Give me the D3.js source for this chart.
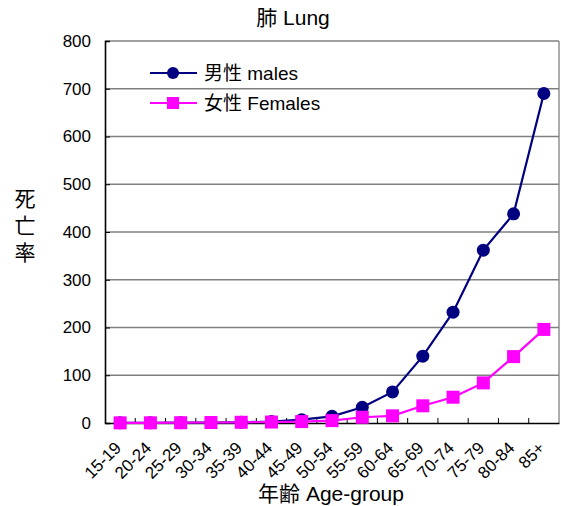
<!DOCTYPE html>
<html><head><meta charset="utf-8">
<script src="https://cdn.jsdelivr.net/npm/d3@7"></script>
<style>
body{margin:0;background:#fff;}
text{font-family:"Liberation Sans","Noto Sans CJK JP",sans-serif;fill:#000;}
</style></head>
<body><svg id="c" width="561" height="506"></svg>
<script>
const categories = ["15-19","20-24","25-29","30-34","35-39","40-44","45-49","50-54","55-59","60-64","65-69","70-74","75-79","80-84","85+"];
const males   = [0.3, 0.4, 0.6, 1, 1.5, 3, 7, 14, 33, 65, 140, 232, 362, 438, 690];
const females = [0.3, 0.4, 0.6, 1, 1.5, 2, 3, 5, 12, 15, 36, 54, 84, 139, 196];
const yTicks  = [0,100,200,300,400,500,600,700,800];
const seriesNames = ["男性 males","女性 Females"];
const colors = ["#000080","#ff00ff"];

const svg = d3.select("#c");
const L=105, R=559, T=41, B=423;
const x = d3.scaleBand().domain(categories).range([L,R]);
const y = d3.scaleLinear().domain([0,800]).range([B,T]);

// gridlines
svg.append("g").selectAll("line").data(yTicks.filter(d=>d>0)).join("line")
  .attr("x1",L).attr("x2",R).attr("y1",d=>y(d)).attr("y2",d=>y(d))
  .attr("stroke","#808080").attr("stroke-width",1.3);
// right border
svg.append("line").attr("x1",R).attr("x2",R).attr("y1",T).attr("y2",B)
  .attr("stroke","#808080").attr("stroke-width",1.3);

// y axis
const ya = svg.append("g").attr("transform",`translate(${L},0)`)
  .call(d3.axisLeft(y).tickValues(yTicks).tickSize(-5).tickPadding(14).tickFormat(d3.format("d")));
ya.select(".domain").attr("stroke","#000").attr("stroke-width",1.6);
ya.selectAll(".tick line").attr("stroke","#000");
ya.selectAll("text").attr("font-size",17).attr("font-family","Liberation Sans,sans-serif");

// x axis
const xa = svg.append("g").attr("transform",`translate(0,${B})`)
  .call(d3.axisBottom(x).tickSize(0).tickFormat(""));
xa.select(".domain").attr("stroke","#000").attr("stroke-width",1.6);
svg.append("g").selectAll("line").data(categories.slice(1)).join("line")
  .attr("x1",d=>x(d)).attr("x2",d=>x(d)).attr("y1",B).attr("y2",B-5)
  .attr("stroke","#000").attr("stroke-width",1);
svg.append("g").selectAll("text").data(categories).join("text")
  .attr("transform",d=>`translate(${x(d)+x.bandwidth()/2+2},${B+26}) rotate(-45)`)
  .attr("text-anchor","end").attr("font-size",17).text(d=>d);

// lines
const line = d3.line().x((d,i)=>x(categories[i])+x.bandwidth()/2).y(d=>y(d));
[males,females].forEach((s,k)=>{
  svg.append("path").datum(s).attr("d",line).attr("fill","none")
    .attr("stroke",colors[k]).attr("stroke-width",2.2);
});
svg.append("g").selectAll("circle").data(males).join("circle")
  .attr("cx",(d,i)=>x(categories[i])+x.bandwidth()/2).attr("cy",d=>y(d))
  .attr("r",6.5).attr("fill",colors[0]);
svg.append("g").selectAll("rect").data(females).join("rect")
  .attr("x",(d,i)=>x(categories[i])+x.bandwidth()/2-6.5).attr("y",d=>y(d)-6.5)
  .attr("width",13).attr("height",13).attr("fill",colors[1]);

// legend
const leg = svg.append("g");
seriesNames.forEach((n,k)=>{
  const yy = 73 + k*30;
  leg.append("line").attr("x1",150).attr("x2",197).attr("y1",yy).attr("y2",yy)
    .attr("stroke",colors[k]).attr("stroke-width",2.2);
  if(k===0) leg.append("circle").attr("cx",173).attr("cy",yy).attr("r",6).attr("fill",colors[k]);
  else leg.append("rect").attr("x",167).attr("y",yy-6).attr("width",12).attr("height",12).attr("fill",colors[k]);
  leg.append("text").attr("x",204).attr("y",yy).attr("dy","0.36em").attr("font-size",19).text(n);
});

// title
svg.append("text").attr("x",293).attr("y",17).attr("dy","0.36em").attr("text-anchor","middle")
  .attr("font-size",21).text("肺 Lung");
// y title
["死","亡","率"].forEach((c,i)=>{
  svg.append("text").attr("x",25).attr("y",198+i*27).attr("dy","0.36em").attr("text-anchor","middle")
    .attr("font-size",21).text(c);
});
// x title
svg.append("text").attr("x",331).attr("y",493).attr("dy","0.36em").attr("text-anchor","middle")
  .attr("font-size",21).text("年齢 Age-group");
</script></body></html>
